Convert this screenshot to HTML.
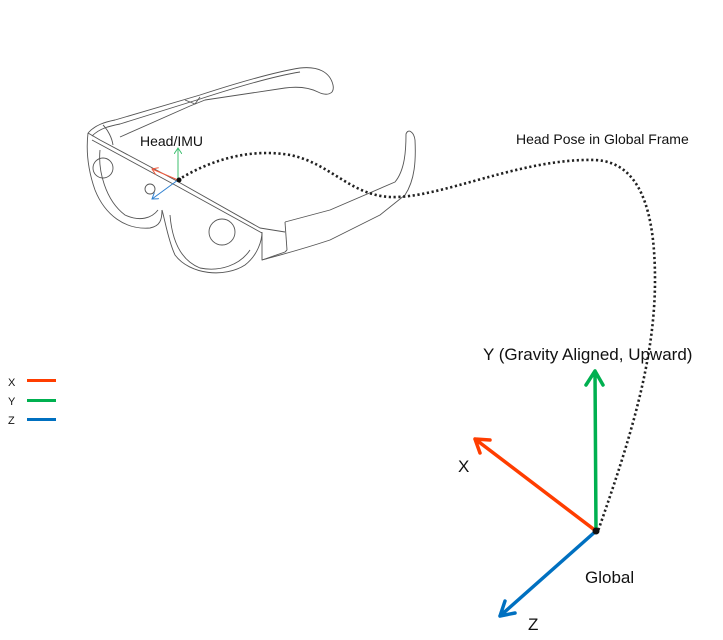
<!DOCTYPE html>
<html><head><meta charset="utf-8"><style>
html,body{margin:0;padding:0;background:#fff;}
svg{display:block;font-family:"Liberation Sans",sans-serif;}
</style></head><body>
<svg width="723" height="640" viewBox="0 0 723 640" xmlns="http://www.w3.org/2000/svg">
<defs>
<marker id="ar" markerWidth="8" markerHeight="8" refX="6" refY="4" orient="auto" markerUnits="userSpaceOnUse"><path d="M0,0 L6,4 L0,8" fill="none" stroke="context-stroke" stroke-width="1"/></marker>
</defs>
<g fill="none" stroke="#555" stroke-width="0.9" stroke-linejoin="round">
<path d="M88,133 C95,125 105,122 115,120 L200,95 C240,82 275,72 300,68 C318,66 330,72 333,85 C335,95 326,96 318,92 C310,88 300,86 285,88 L205,100 L190,106 L120,137"/>
<path d="M92,136 C100,128 110,126 120,124 L200,99 C240,86 275,76 300,72"/>
<path d="M103,125 C108,130 112,138 113,145"/>
<path d="M185,100 L195,104 L200,97"/>
<path d="M88,133 C86,150 88,170 95,190 C105,215 125,230 150,228 C160,226 162,220 162,210"/>
<path d="M88,133 L100,140 L175,180 L260,228 L285,232"/>
<path d="M92,140 L175,185 L262,233"/>
<path d="M100,150 C98,170 105,200 125,215 C140,222 152,218 158,210"/>
<path d="M162,210 C165,220 168,240 175,255 C190,275 225,278 245,265 C258,255 262,240 262,232"/>
<path d="M170,215 C172,240 180,260 200,268 C220,272 240,265 250,250"/>
<path d="M262,233 L262,260 C280,255 300,250 330,240 L380,215 L405,195 C415,180 416,160 415,140 C414,132 408,128 406,134 C406,150 405,170 395,182 L330,210 L285,222"/>
<path d="M285,222 L287,250"/>
<path d="M262,260 L285,252 L287,250"/>
<circle cx="103" cy="168" r="10"/>
<circle cx="222" cy="232" r="13"/>
<circle cx="150" cy="189" r="5"/>
</g>
<path d="M178,180 C210,160 250,148 290,155 C330,163 350,195 390,197 C440,199 520,158 595,160 C640,162 655,210 655,280 C655,360 630,440 598,531" fill="none" stroke="#222" stroke-width="2.6" stroke-dasharray="2.2,2.6"/>
<line x1="178" y1="180" x2="178" y2="148" stroke="#3cbf6e" stroke-width="1" marker-end="url(#ar)"/>
<line x1="178" y1="180" x2="152" y2="169" stroke="#f05a3c" stroke-width="1" marker-end="url(#ar)"/>
<line x1="178" y1="180" x2="152" y2="199" stroke="#2f80d0" stroke-width="1" marker-end="url(#ar)"/>
<circle cx="179" cy="180" r="2.5" fill="#111"/>
<text x="140" y="146" font-size="14" fill="#111">Head/IMU</text>
<text x="516" y="144" font-size="14" fill="#111">Head Pose in Global Frame</text>
<g stroke-width="3.5" fill="none" stroke-linecap="round">
<path d="M596,531 L475,439 M475,439 L490,440 M475,439 L480,453" stroke="#ff3d00"/>
<path d="M596,531 L595,371 M595,371 L586,385 M595,371 L603,385" stroke="#00b050"/>
<path d="M596,531 L500,616 M500,616 L505,601 M500,616 L515,613" stroke="#0070c0"/>
</g>
<circle cx="596" cy="531" r="3.5" fill="#111"/>
<text x="483" y="360" font-size="17" fill="#111">Y (Gravity Aligned, Upward)</text>
<text x="458" y="472" font-size="17" fill="#111">X</text>
<text x="585" y="583" font-size="17" fill="#111">Global</text>
<text x="528" y="630" font-size="17" fill="#111">Z</text>
<text x="8" y="386" font-size="11" fill="#111">X</text>
<text x="8" y="405" font-size="11" fill="#111">Y</text>
<text x="8" y="424" font-size="11" fill="#111">Z</text>
<rect x="27" y="379" width="29" height="3" fill="#ff3d00"/>
<rect x="27" y="399" width="29" height="3" fill="#00b050"/>
<rect x="27" y="418" width="29" height="3" fill="#0070c0"/>
</svg>
</body></html>
